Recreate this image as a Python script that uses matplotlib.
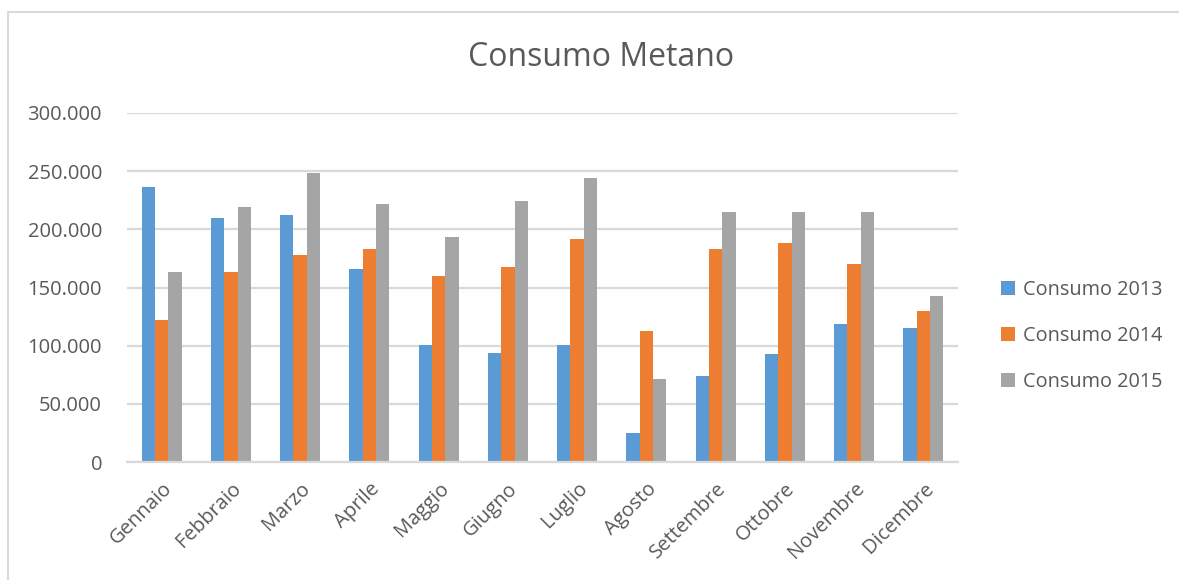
import matplotlib
matplotlib.use("Agg")
import matplotlib.pyplot as plt
import numpy as np
from matplotlib.patches import Patch
from matplotlib.lines import Line2D

months = ["Gennaio", "Febbraio", "Marzo", "Aprile", "Maggio", "Giugno",
          "Luglio", "Agosto", "Settembre", "Ottobre", "Novembre", "Dicembre"]
consumo_2013 = [236000, 210000, 212000, 166000, 101000, 94000,
                101000, 25000, 74000, 93000, 119000, 115000]
consumo_2014 = [122000, 163000, 178000, 183000, 160000, 168000,
                192000, 113000, 183000, 188000, 170000, 130000]
consumo_2015 = [163000, 219000, 248000, 222000, 193000, 224000,
                244000, 71000, 215000, 215000, 215000, 143000]
series_labels = ["Consumo 2013", "Consumo 2014", "Consumo 2015"]
colors = ["#5b9bd5", "#ed7d31", "#a5a5a5"]
yticks = [0, 50000, 100000, 150000, 200000, 250000, 300000]

font = ["Open Sans", "DejaVu Sans"]
txt = "#595959"

fig = plt.figure(figsize=(11.79, 5.80), dpi=100)
fx, fy = 8 / 1179, 1 - 12 / 580
fig.lines.append(Line2D([fx, fx, 1.0], [0.0, fy, fy], transform=fig.transFigure,
                        color="#d9d9d9", linewidth=1.5, zorder=0))

ax = fig.add_axes([127 / 1179, (580 - 462) / 580, (958 - 127) / 1179, (462 - 113) / 580])
x = np.arange(len(months))
w = 0.193
for i, (vals, lab, c) in enumerate(zip([consumo_2013, consumo_2014, consumo_2015], series_labels, colors)):
    ax.bar(x + (i - 1) * w, vals, width=w, color=c, label=lab, zorder=3)

ax.set_xlim(-0.5, len(months) - 0.5)
ax.set_ylim(0, 300000)
ax.set_yticks(yticks)
ax.set_yticklabels([f"{v:,}".replace(",", ".") for v in yticks], fontfamily=font, fontsize=14.5, color=txt)
ax.set_xticks(x)
ax.set_xticklabels(months, rotation=45, ha="right", rotation_mode="anchor",
                   fontfamily=font, fontsize=14.5, color=txt)
ax.tick_params(axis="y", length=0, pad=18)
ax.tick_params(axis="x", length=0, pad=12)
ax.grid(axis="y", color="#d9d9d9", linewidth=1.6, zorder=0)
for s in ["top", "right", "left"]:
    ax.spines[s].set_visible(False)
ax.spines["bottom"].set_color("#d9d9d9")
ax.spines["bottom"].set_linewidth(1.6)
ax.spines["bottom"].set_zorder(4)

fig.text(601 / 1179, 1 - 58 / 580, "Consumo Metano", ha="center", va="center",
         fontfamily=font, fontsize=23, color=txt)

handles = [Patch(facecolor=c, edgecolor="none") for c in colors]
leg = fig.legend(handles, series_labels, loc="center left",
                 bbox_to_anchor=(1001 / 1179, 1 - 336 / 580), frameon=False,
                 borderpad=0, borderaxespad=0,
                 prop={"family": font, "size": 14.3}, labelcolor=txt,
                 handlelength=0.7, handleheight=0.7, handletextpad=0.4, labelspacing=1.3)

fig.savefig("out.png", dpi=100, facecolor="white")
